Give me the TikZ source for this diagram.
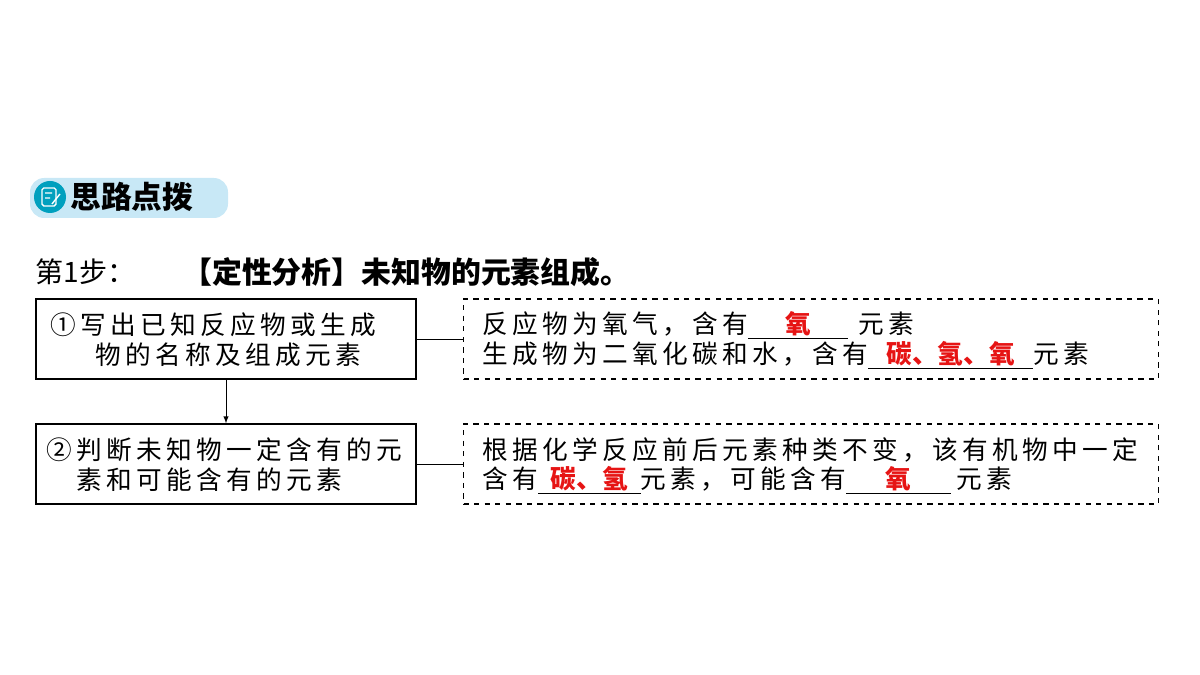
\documentclass[tikz,border=0pt]{standalone}
\usepackage{fontspec}
\newfontfamily\cjk[LetterSpace=17]{Noto Sans CJK SC}
\newfontfamily\cjkh{Noto Sans CJK SC}
\usetikzlibrary{positioning}
\definecolor{badge}{RGB}{200,232,246}
\definecolor{teal}{RGB}{0,160,190}
\definecolor{ans}{RGB}{230,20,20}
\newcommand{\blank}[2]{\underline{\makebox[#1]{\textcolor{ans}{\cjkh\bfseries #2}}}}
\tikzset{
  txt/.style={anchor=west, inner sep=0pt, font=\cjk\fontsize{14.6}{17}\selectfont},
  stepbox/.style={draw, thick, minimum width=7.6cm, minimum height=1.6cm},
  info/.style={draw, thick, dashed, minimum width=13.9cm, minimum height=1.6cm}
}
\begin{document}
\begin{tikzpicture}[x=0.02cm,y=-0.02cm]
\useasboundingbox (0,0) rectangle (1200,675);

% badge
\fill[badge, rounded corners=8pt] (30,178) rectangle (228,218);
\fill[teal] (50,197) circle (16);
\draw[white, thick, rounded corners=1pt] (42,188) rectangle (56,206);
\draw[white, thick] (45,193) -- (52,193) (45,198) -- (50,198) (52,204) -- (60,194);
\node[anchor=west, inner sep=0pt, font=\cjkh\bfseries\fontsize{17.5}{20}\selectfont] (title) at (70,197) {思路点拨};

% heading
\node[anchor=west, inner sep=0pt, font=\cjkh\fontsize{16}{18}\selectfont] (stepno) at (35,272) {第1步：};
\node[anchor=west, inner sep=0pt, font=\cjkh\bfseries\fontsize{17}{19}\selectfont] (head) at (182,272) {【定性分析】未知物的元素组成。};

% left boxes
\node[stepbox] (s1) at (226,339) {};
\node[stepbox] (s2) at (226,464) {};
\node[txt] at (50,325) {①写出已知反应物或生成};
\node[txt] at (95,355) {物的名称及组成元素};
\node[txt] at (46,450) {②判断未知物一定含有的元};
\node[txt] at (76,480) {素和可能含有的元素};
\draw[-latex] (s1) -- (s2);

% right boxes
\node[info] (i1) at (811,339) {};
\node[info] (i2) at (811,464) {};
\draw (s1) -- (i1);
\draw (s2) -- (i2);

\node[txt] at (482,325) {反应物为氧气，含有\blank{2cm}{氧}\hspace{0.2cm}元素};
\node[txt] at (482,355) {生成物为二氧化碳和水，含有\blank{3.3cm}{碳、氢、氧}元素};
\node[txt] at (482,450) {根据化学反应前后元素种类不变，该有机物中一定};
\node[txt] at (482,480) {含有\blank{2.05cm}{碳、氢}元素，可能含有\blank{2.1cm}{氧}\hspace{0.1cm}元素};
\end{tikzpicture}
\end{document}
